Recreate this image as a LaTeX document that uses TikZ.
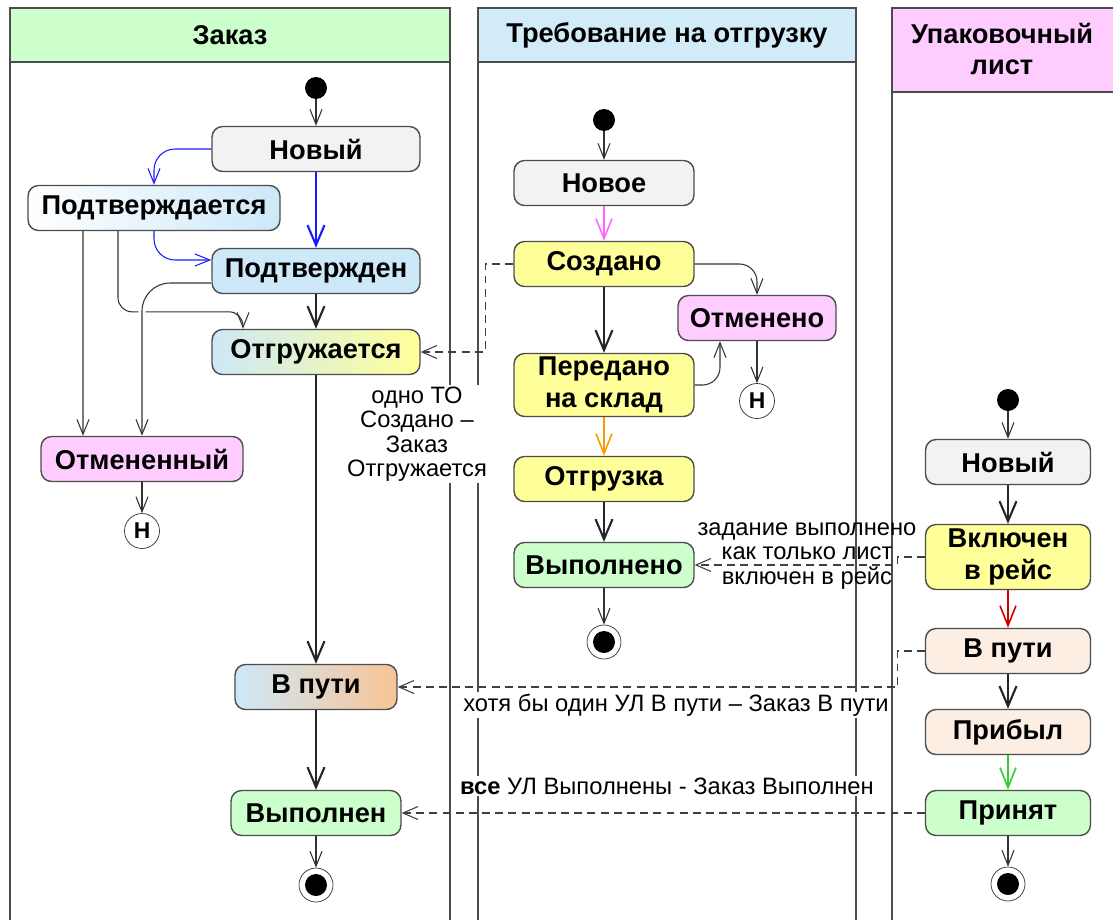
\documentclass[tikz,border=0pt]{standalone}
\usepackage{fontspec}
\setmainfont{Liberation Sans}
\usepackage{xcolor}
\usetikzlibrary{arrows.meta}

\definecolor{grayfill}{HTML}{F2F2F2}
\definecolor{bluefill}{HTML}{CDE8F8}
\definecolor{bluehead}{HTML}{D2EBF8}
\definecolor{greenfill}{HTML}{CCFFCC}
\definecolor{yellowfill}{HTML}{FFFF99}
\definecolor{pinkfill}{HTML}{FFCCFF}
\definecolor{peachfill}{HTML}{FCEEE2}
\definecolor{orangeend}{HTML}{F8C496}
\definecolor{pinkline}{HTML}{FF66FF}
\definecolor{orangeline}{HTML}{FF9900}
\definecolor{redline}{HTML}{CC0000}
\definecolor{greenline}{HTML}{33CC33}
\definecolor{blueline}{HTML}{1A1AFF}

\begin{document}
\begin{tikzpicture}[x=0.02cm, y=-0.02cm,
  every node/.style={font=\fontsize{15.5}{18.5}\selectfont\bfseries},
  stbox/.style={draw=black!70, line width=0.8pt, rounded corners=6pt, minimum height=0.9cm, inner sep=1pt, align=center},
  startdot/.style={circle, fill=black, inner sep=0pt, minimum size=0.44cm},
  enddot/.style={circle, draw=black!80, fill=white, inner sep=0pt, minimum size=0.68cm,
    path picture={\fill[black] (path picture bounding box.center) circle (0.22cm);}},
  histnode/.style={circle, draw=black!80, fill=white, inner sep=0pt, minimum size=0.7cm, font=\fontsize{13}{13}\selectfont\bfseries},
  trans/.style={draw=black!80, line width=0.6pt, -{Straight Barb[length=3mm,width=2.4mm]}},
  mainflow/.style={draw=black!85, line width=1.2pt, -{Straight Barb[length=4mm,width=3.4mm]}},
  colflow/.style={line width=0.9pt, -{Straight Barb[length=4mm,width=3.2mm]}},
  link/.style={draw=black!75, line width=0.6pt, dash pattern=on 4.5pt off 3pt, -{Straight Barb[length=3mm,width=2.6mm]}},
  note/.style={font=\fontsize{13.5}{13.9}\selectfont, align=center, inner sep=1pt},
  lane/.style={draw=black!70, line width=1.2pt}]

  \useasboundingbox (0,0) rectangle (1113,920);

  % Swimlanes
  \draw[lane, fill=greenfill] (10,8) rectangle (450,62);
  \draw[lane, fill=bluehead] (478,8) rectangle (856,62);
  \fill[pinkfill] (892,8) rectangle (1113,92);
  \draw[lane] (1113,8) -- (892,8) -- (892,920);
  \draw[lane] (892,92) -- (1113,92);
  \foreach \x in {10,450,478,856} {\draw[lane] (\x,62) -- (\x,920);}

  \node (hOrder) at (230,35) {Заказ};
  \node (hDemand) at (667,35) {Требование на отгрузку};
  \node[align=center, font=\fontsize{15.5}{18}\selectfont\bfseries] (hPack) at (1002,49) {Упаковочный\\лист};

  % labels on lane borders
  \node[note, fill=white] (lblShip) at (417,434) {одно ТО\\Создано –\\Заказ\\Отгружается};
  \node[note, fill=white] (lblWay) at (676,705) {хотя бы один УЛ В пути – Заказ В пути};
  \node[note, fill=white] (lblDone) at (667,786) {\textbf{все} УЛ Выполнены - Заказ Выполнен};
  \node[note] (lblTrip) at (807,556) {задание выполнено\\как только лист\\включен в рейс};

  % Order
  \node[startdot] (z0) at (316,88) {};
  \node[stbox, fill=grayfill, minimum width=4.16cm] (zNew) at (316,149) {Новый};
  \node[stbox, left color=white, right color=bluefill, minimum width=5.04cm] (zConfing) at (154,208) {Подтверждается};
  \node[stbox, fill=bluefill, minimum width=4.16cm] (zConf) at (316,271) {Подтвержден};
  \node[stbox, left color=bluefill, right color=yellowfill, minimum width=4.16cm] (zShip) at (316,352) {Отгружается};
  \node[stbox, fill=pinkfill, minimum width=4.04cm] (zCanc) at (142,459) {Отмененный};
  \node[histnode] (zH) at (142,531) {H};
  \node[stbox, left color=bluefill, right color=orangeend, minimum width=3.24cm] (zTrans) at (316,687) {В пути};
  \node[stbox, fill=greenfill, minimum width=3.4cm] (zDone) at (316,813) {Выполнен};
  \node[enddot] (zEnd) at (316,885) {};

  \draw[trans] (z0) -- (zNew);
  \draw[mainflow, draw=blueline] (zNew) -- (zConf);
  \draw[trans, draw=blueline, rounded corners=12pt] (zNew.west) -| (zConfing.north);
  \draw[trans, draw=blueline, rounded corners=12pt] (zConfing.south) |- ([yshift=0.22cm]zConf.west);
  \draw[trans] ([xshift=-1.42cm]zConfing.south) -- ([xshift=-1.18cm]zCanc.north);
  \draw[trans, rounded corners=8pt] ([xshift=-0.72cm]zConfing.south) |- ([xshift=-1.46cm,yshift=0.34cm]zShip.north)
    -- ([xshift=-1.46cm]zShip.north);
  \draw[trans, rounded corners=16pt, preaction={draw, white, line width=4pt, -}] ([yshift=-0.24cm]zConf.west) -| (zCanc.north);
  \draw[mainflow] (zConf) -- (zShip);
  \draw[mainflow] (zShip) -- (zTrans);
  \draw[mainflow] (zTrans) -- (zDone);
  \draw[trans] (zCanc) -- (zH);
  \draw[trans] (zDone) -- (zEnd);

  % Demand for shipment
  \node[startdot] (t0) at (604,120) {};
  \node[stbox, fill=grayfill, minimum width=3.6cm] (tNew) at (604,183) {Новое};
  \node[stbox, fill=yellowfill, minimum width=3.6cm] (tCreated) at (604,264) {Создано};
  \node[stbox, fill=pinkfill, minimum width=3.16cm] (tCanc) at (757,318) {Отменено};
  \node[histnode] (tH) at (757,401) {H};
  \node[stbox, fill=yellowfill, minimum width=3.6cm, minimum height=1.26cm] (tPassed) at (604,385) {Передано\\на склад};
  \node[stbox, fill=yellowfill, minimum width=3.6cm] (tShip) at (604,479) {Отгрузка};
  \node[stbox, fill=greenfill, minimum width=3.6cm] (tDone) at (604,565) {Выполнено};
  \node[enddot] (tEnd) at (604,642) {};

  \draw[trans] (t0) -- (tNew);
  \draw[colflow, draw=pinkline] (tNew) -- (tCreated);
  \draw[mainflow] (tCreated) -- (tPassed);
  \draw[trans, rounded corners=10pt] (tCreated.east) -| (tCanc.north);
  \draw[trans, rounded corners=10pt] (tPassed.east) -| ([xshift=-0.74cm]tCanc.south);
  \draw[trans] (tCanc) -- (tH);
  \draw[colflow, draw=orangeline] (tPassed) -- (tShip);
  \draw[mainflow] (tShip) -- (tDone);
  \draw[trans] (tDone) -- (tEnd);

  % Packing list
  \node[startdot] (u0) at (1008,400) {};
  \node[stbox, fill=grayfill, minimum width=3.3cm] (uNew) at (1008,462) {Новый};
  \node[stbox, fill=yellowfill, minimum width=3.3cm, minimum height=1.3cm] (uTrip) at (1008,557) {Включен\\в рейс};
  \node[stbox, fill=peachfill, minimum width=3.3cm] (uWay) at (1008,651) {В пути};
  \node[stbox, fill=peachfill, minimum width=3.3cm] (uArr) at (1008,732) {Прибыл};
  \node[stbox, fill=greenfill, minimum width=3.3cm] (uAcc) at (1008,813) {Принят};
  \node[enddot] (uEnd) at (1008,884) {};

  \draw[trans] (u0) -- (uNew);
  \draw[mainflow] (uNew) -- (uTrip);
  \draw[colflow, draw=redline] (uTrip) -- (uWay);
  \draw[mainflow] (uWay) -- (uArr);
  \draw[colflow, draw=greenline] (uArr) -- (uAcc);
  \draw[trans] (uAcc) -- (uEnd);

  % status links between lanes
  \draw[link] (tCreated.west) -- ++(-28,0) |- (zShip.east);
  \draw[link] (uTrip.west) -- ++(-27,0) |- (tDone.east);
  \draw[link] (uWay.west) -- ++(-27,0) |- (zTrans.east);
  \draw[link] (uAcc.west) -- (zDone.east);

\end{tikzpicture}
\end{document}
